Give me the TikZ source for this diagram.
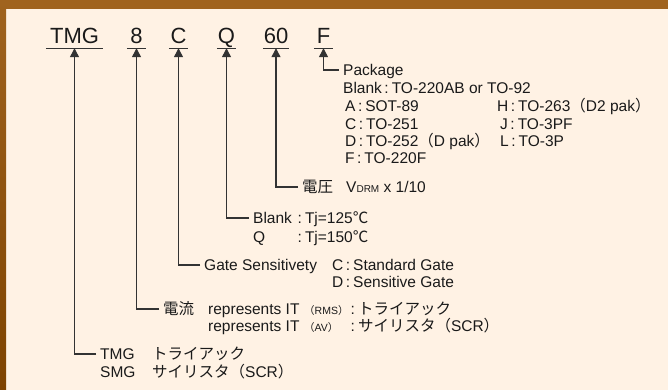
\documentclass[tikz,border=0pt]{standalone}
\usepackage{fontspec}
\setmainfont{Liberation Sans}
\newfontfamily\jp{Noto Sans CJK JP}
\usetikzlibrary{arrows.meta,positioning}
\definecolor{cream}{HTML}{FFF2E4}
\definecolor{bark}{HTML}{A0631E}
\definecolor{barkdark}{HTML}{7E4300}
\definecolor{ink}{HTML}{1A1A1A}
\definecolor{wireink}{HTML}{333333}
\newcommand{\sm}[1]{{\fontsize{10}{10}\selectfont #1}}
\newcommand{\smallpar}[1]{{\fontsize{10.5}{10.5}\selectfont{\jp （}#1{\jp ）}}}
\newcommand{\cl}{\hspace{2.5pt}:\hspace{3pt}}
\tikzset{code/.style={font=\fontsize{22}{22}\selectfont,text=ink,anchor=base,inner xsep=0pt,inner ysep=4pt,text depth=0pt},
  txt/.style={anchor=west,inner xsep=0pt,inner ysep=1pt,text height=10.5pt,text depth=0pt,text=ink},
  head/.style={txt,inner xsep=4pt},
  lead/.style={draw=wireink,line width=1.2pt,-{Triangle[length=9pt,width=9pt]}},
  uline/.style={draw=wireink,line width=1.3pt}}

\begin{document}
\begin{tikzpicture}[x=1pt,y=-1pt,font=\fontsize{15.5}{18}\selectfont]
  \useasboundingbox (0,0) rectangle (668,390);
  % frame
  \fill[cream] (0,0) rectangle (668,390);
  \fill[bark] (0,0) rectangle (668,9);
  \shade[top color=bark,bottom color=barkdark] (0,0) rectangle (6,390);
  % part number
  \foreach \x/\name/\code/\w in {74.5/tmg/TMG/57,136.5/cur/8/19,178.5/gate/C/19,226.5/tj/Q/19,276/volt/60/26,323.5/pkg/F/19}
    \node[code,minimum width=\w pt] (\name) at (\x,44) {\code};
  \foreach \name in {tmg,cur,gate,tj,volt,pkg}
    \draw[uline] (\name.south west) -- (\name.south east);
  % package
  \node[head] (pkghd) at (339,70) {Package};
  \draw[lead] (pkghd.west) -| (pkg.south);
  \node[txt] (optblank) at (343,88) {Blank\cl TO-220AB or TO-92};
  \foreach \nm/\x/\y/\t in {opta/345/106/{A\cl SOT-89},opth/497/106/{H\cl TO-263{\jp （}D2 pak{\jp ）}},
      optc/345/124/{C\cl TO-251},optj/500/124/{J\cl TO-3PF},
      optd/345/141/{D\cl TO-252{\jp （}D pak{\jp ）}},optl/500/141/{L\cl TO-3P},
      optf/345/158/{F\cl TO-220F}}
    \node[txt] (\nm) at (\x,\y) {\t};
  % voltage
  \node[head] (volthd) at (298,187) {{\jp 電圧}\hspace{13pt}V\sm{DRM} x 1/10};
  \draw[lead] (volthd.west) -| (volt.south);
  % junction temperature
  \node[head] (tjhd) at (249,218) {Blank};
  \draw[lead] (tjhd.west) -| (tj.south);
  \node[txt] (tjq) at (253,237) {Q};
  \node[txt] (tjlow) at (295,218) {\cl Tj=125{\jp ℃}};
  \node[txt] (tjhigh) at (295,237) {\cl Tj=150{\jp ℃}};
  % gate
  \node[head] (gatehd) at (200,265) {Gate Sensitivety};
  \draw[lead] (gatehd.west) -| (gate.south);
  \node[txt] (gatec) at (332,265) {C\cl Standard Gate};
  \node[txt] (gated) at (332,282) {D\cl Sensitive Gate};
  % current
  \node[head] (curhd) at (159,309) {\jp 電流};
  \draw[lead] (curhd.west) -| (cur.south);
  \node[txt] (currms) at (208,309) {represents IT};
  \node[txt] (curav) at (208,326) {represents IT};
  \node[txt] (rms) at (304,309) {\smallpar{RMS}};
  \node[txt] (av) at (304,326) {\smallpar{AV}};
  \node[txt] (triac) at (348,309) {\cl{\jp トライアック}};
  \node[txt] (scr) at (348,326) {\cl{\jp サイリスタ（}SCR{\jp ）}};
  % device type
  \node[head] (tmghd) at (96,354) {TMG};
  \draw[lead] (tmghd.west) -| (tmg.south);
  \node[txt] (smg) at (100,372) {SMG};
  \node[txt] (tmgtype) at (152,354) {\jp トライアック};
  \node[txt] (smgtype) at (152,372) {{\jp サイリスタ（}SCR{\jp ）}};
\end{tikzpicture}
\end{document}
